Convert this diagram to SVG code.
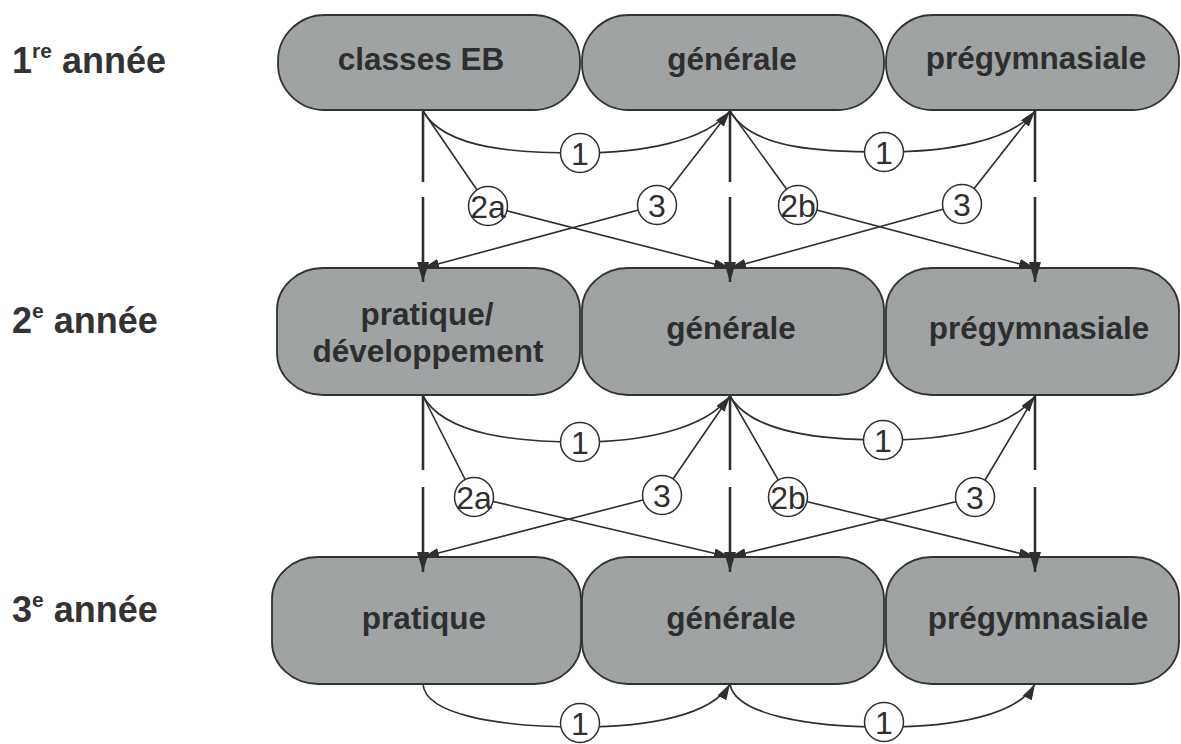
<svg xmlns="http://www.w3.org/2000/svg" width="1181" height="744" viewBox="0 0 1181 744">
<style>
.node{fill:#a0a3a4;stroke:#333;stroke-width:1.8}
.nt{font-family:"Liberation Sans",Arial,sans-serif;font-weight:bold;font-size:31.5px;fill:#2e2e2e;text-anchor:middle}
.yr{font-family:"Liberation Sans",Arial,sans-serif;font-weight:bold;font-size:36px;fill:#333}
.sup{font-size:21px}
.ln{fill:none;stroke:#2f2f2f;stroke-width:1.6}
.vl{fill:none;stroke:#2f2f2f;stroke-width:2.6}
.lc{fill:#fff;stroke:#2f2f2f;stroke-width:1.5}
.lt{font-family:"Liberation Sans",Arial,sans-serif;font-size:32px;fill:#2f2f2f;text-anchor:middle}
</style>
<defs>
<marker id="ah" markerUnits="userSpaceOnUse" markerWidth="16" markerHeight="10" refX="16" refY="5" orient="auto">
<path d="M0,0 L16,5 L0,10 z" fill="#2f2f2f"/>
</marker>
<marker id="av" markerUnits="userSpaceOnUse" markerWidth="20" markerHeight="12" refX="20" refY="6" orient="auto">
<path d="M0,0 L20,6 L0,12 z" fill="#2f2f2f"/>
</marker>
</defs>
<rect width="1181" height="744" fill="#fff"/>

<g id="year-labels">
<text class="yr" x="12" y="73">1<tspan class="sup" dy="-15">re</tspan><tspan dy="15"> année</tspan></text>
<text class="yr" x="12" y="333">2<tspan class="sup" dy="-15">e</tspan><tspan dy="15"> année</tspan></text>
<text class="yr" x="12" y="622">3<tspan class="sup" dy="-15">e</tspan><tspan dy="15"> année</tspan></text>
</g>

<g id="n1a"><rect class="node" x="278" y="15" width="302" height="95" rx="47" ry="46"/><text class="nt" x="421" y="70">classes EB</text></g>
<g id="n1b"><rect class="node" x="582" y="15" width="302" height="95" rx="47" ry="46"/><text class="nt" x="732" y="70">générale</text></g>
<g id="n1c"><rect class="node" x="886" y="15" width="293" height="95" rx="47" ry="46"/><text class="nt" x="1036" y="69">prégymnasiale</text></g>

<g id="n2a"><rect class="node" x="277" y="268" width="303" height="127" rx="46" ry="42"/><text class="nt" x="427" y="325">pratique/</text><text class="nt" x="428" y="362">développement</text></g>
<g id="n2b"><rect class="node" x="582" y="268" width="302" height="127" rx="46" ry="42"/><text class="nt" x="731" y="339">générale</text></g>
<g id="n2c"><rect class="node" x="886" y="268" width="293" height="127" rx="46" ry="42"/><text class="nt" x="1039" y="339">prégymnasiale</text></g>

<g id="n3a"><rect class="node" x="272" y="557" width="309" height="127" rx="46" ry="42"/><text class="nt" x="424" y="629">pratique</text></g>
<g id="n3b"><rect class="node" x="582" y="557" width="302" height="127" rx="46" ry="42"/><text class="nt" x="731" y="629">générale</text></g>
<g id="n3c"><rect class="node" x="886" y="557" width="293" height="127" rx="46" ry="42"/><text class="nt" x="1038" y="629">prégymnasiale</text></g>

<g id="connectors">
<path class="vl" d="M423,111 V182"/><path class="vl" d="M423,197 V282" marker-end="url(#av)"/>
<path class="vl" d="M730,111 V182"/><path class="vl" d="M730,197 V282" marker-end="url(#av)"/>
<path class="vl" d="M1035,111 V182"/><path class="vl" d="M1035,197 V282" marker-end="url(#av)"/>
<path class="vl" d="M423,396 V470"/><path class="vl" d="M423,487 V572" marker-end="url(#av)"/>
<path class="vl" d="M730,396 V470"/><path class="vl" d="M730,487 V572" marker-end="url(#av)"/>
<path class="vl" d="M1035,396 V470"/><path class="vl" d="M1035,487 V572" marker-end="url(#av)"/>

<path class="ln" d="M423,111 C445,150 520,153 580,153 C640,153 705,142 730,111" marker-end="url(#ah)"/>
<path class="ln" d="M730,111 C752,150 825,152 884,152 C945,152 1010,142 1035,111" marker-end="url(#ah)"/>
<path class="ln" d="M423,111 L488,206 L730,268" marker-end="url(#ah)"/>
<path class="ln" d="M730,111 L657,205 L423,268" marker-end="url(#ah)"/>
<path class="ln" d="M730,111 L798,205 L1035,268" marker-end="url(#ah)"/>
<path class="ln" d="M1035,111 L962,204 L730,268" marker-end="url(#ah)"/>

<path class="ln" d="M423,396 C445,436 520,442 580,442 C640,442 705,430 730,396" marker-end="url(#ah)"/>
<path class="ln" d="M730,396 C752,434 825,440 883,440 C945,440 1010,430 1035,396" marker-end="url(#ah)"/>
<path class="ln" d="M423,396 L474,497 L730,557" marker-end="url(#ah)"/>
<path class="ln" d="M730,396 L662,495 L423,557" marker-end="url(#ah)"/>
<path class="ln" d="M730,396 L788,497 L1035,557" marker-end="url(#ah)"/>
<path class="ln" d="M1035,396 L975,497 L730,557" marker-end="url(#ah)"/>

<path class="ln" d="M423,684 C425,715 500,727 580,727 C650,727 712,715 730,684" marker-end="url(#ah)"/>
<path class="ln" d="M730,684 C735,715 810,727 884,727 C955,727 1018,715 1035,684" marker-end="url(#ah)"/>
</g>

<g id="edge-labels">
<circle class="lc" cx="580" cy="153" r="19.5"/><text class="lt" x="580" y="165">1</text>
<circle class="lc" cx="884" cy="152" r="19.5"/><text class="lt" x="884" y="164">1</text>
<circle class="lc" cx="488" cy="206" r="19.5"/><text class="lt" x="488" y="218">2a</text>
<circle class="lc" cx="657" cy="205" r="19.5"/><text class="lt" x="657" y="217">3</text>
<circle class="lc" cx="798" cy="205" r="19.5"/><text class="lt" x="798" y="217">2b</text>
<circle class="lc" cx="962" cy="204" r="19.5"/><text class="lt" x="962" y="216">3</text>

<circle class="lc" cx="580" cy="442" r="19.5"/><text class="lt" x="580" y="454">1</text>
<circle class="lc" cx="883" cy="440" r="19.5"/><text class="lt" x="883" y="452">1</text>
<circle class="lc" cx="474" cy="497" r="19.5"/><text class="lt" x="474" y="509">2a</text>
<circle class="lc" cx="662" cy="495" r="19.5"/><text class="lt" x="662" y="507">3</text>
<circle class="lc" cx="788" cy="497" r="19.5"/><text class="lt" x="788" y="509">2b</text>
<circle class="lc" cx="975" cy="497" r="19.5"/><text class="lt" x="975" y="509">3</text>

<circle class="lc" cx="580" cy="723" r="19.5"/><text class="lt" x="580" y="735">1</text>
<circle class="lc" cx="884" cy="722" r="19.5"/><text class="lt" x="884" y="734">1</text>
</g>
</svg>
